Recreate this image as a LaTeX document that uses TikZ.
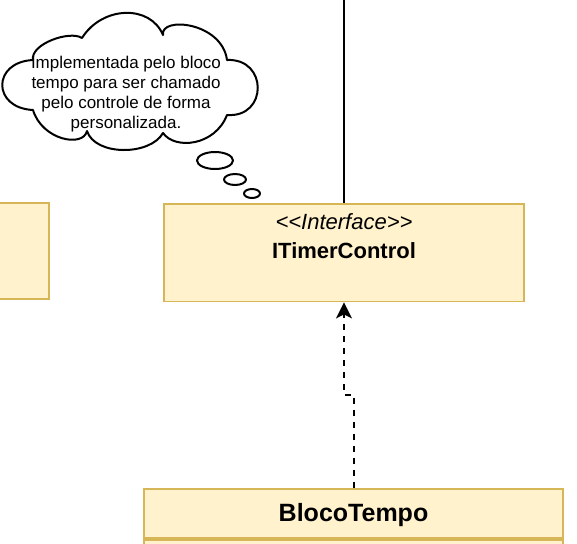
\documentclass[tikz,border=0pt]{standalone}
\usepackage{fontspec}
\setmainfont{Liberation Sans}
\usetikzlibrary{arrows.meta}
\definecolor{boxfill}{HTML}{FFF2CC}
\definecolor{boxline}{HTML}{D6B656}
\begin{document}
\begin{tikzpicture}[x=0.75pt,y=-0.75pt,
  umlbox/.style={draw=boxline, fill=boxfill, line width=1.4pt, rectangle, inner sep=0pt},
  blackline/.style={draw=black, line width=1.5pt},
  cloudline/.style={draw=black, fill=white, line width=1.5pt, line join=round},
  realize/.style={draw=black, line width=1.5pt, dash pattern=on 4.5pt off 4.5pt,
    -{Stealth[length=12pt, width=12pt, inset=3pt]}},
  lbl/.style={inner sep=0pt, anchor=base, text=black}]
\useasboundingbox (0,0) rectangle (577,543);
\clip (0,0) rectangle (577,543);

% left (partially visible) box
\node[umlbox, minimum width=90pt, minimum height=72pt] (leftbox) at (-10.7,251) {};

% interface box
\node[umlbox, minimum width=270pt, minimum height=73.1pt] (itf) at (344,252.75) {};
\node[lbl, font=\fontsize{16.5pt}{19pt}\selectfont\itshape] (itfst) at (344,229) {<\kern0pt<Interface>\kern0pt>};
\node[lbl, font=\fontsize{16.5pt}{19pt}\selectfont\bfseries] (itfname) at (344,258) {ITimerControl};

% BlocoTempo box
\node[umlbox, minimum width=314.25pt, minimum height=36.75pt] (bt) at (353.5,513.5) {};
\node[umlbox, minimum width=314.25pt, minimum height=45pt, anchor=north] (btbody) at (bt.south) {};
\node[lbl, font=\fontsize{18.75pt}{22pt}\selectfont\bfseries] (btname) at (353.5,521) {BlocoTempo};

% line from top
\coordinate (topend) at (344,-5);
\draw[blackline] (topend) -- (itf.north);

% realization arrow
\coordinate (bend) at (344,395);
\draw[realize] (bt.north) |- (bend) -- (itf.south);

% cloud callout
\draw[cloudline] (33,60)
 .. controls (-8,62) and (-8,108) .. (33,110)
 .. controls (42,140) and (83,148) .. (87,131)
 .. controls (95,156) and (150,156) .. (163,133)
 .. controls (175,150) and (215,146) .. (227,115)
 .. controls (268,118) and (268,58) .. (227,60)
 .. controls (222,22) and (160,16) .. (163,35)
 .. controls (150,4) and (102,6) .. (82,38)
 .. controls (70,30) and (30,44) .. (33,60) -- cycle;
\node[inner sep=0pt, anchor=north, align=center, text=black,
  font=\fontsize{12.75pt}{15pt}\selectfont] (note) at (126,55.7)
  {Implementada pelo bloco\\tempo para ser chamado\\pelo controle de forma\\personalizada.};

% thought bubbles
\draw[cloudline] (215,160.5) ellipse [x radius=18, y radius=8.5];
\draw[cloudline] (235,179.5) ellipse [x radius=11, y radius=5.5];
\draw[cloudline] (252,193.5) ellipse [x radius=8, y radius=4.5];
\end{tikzpicture}
\end{document}
